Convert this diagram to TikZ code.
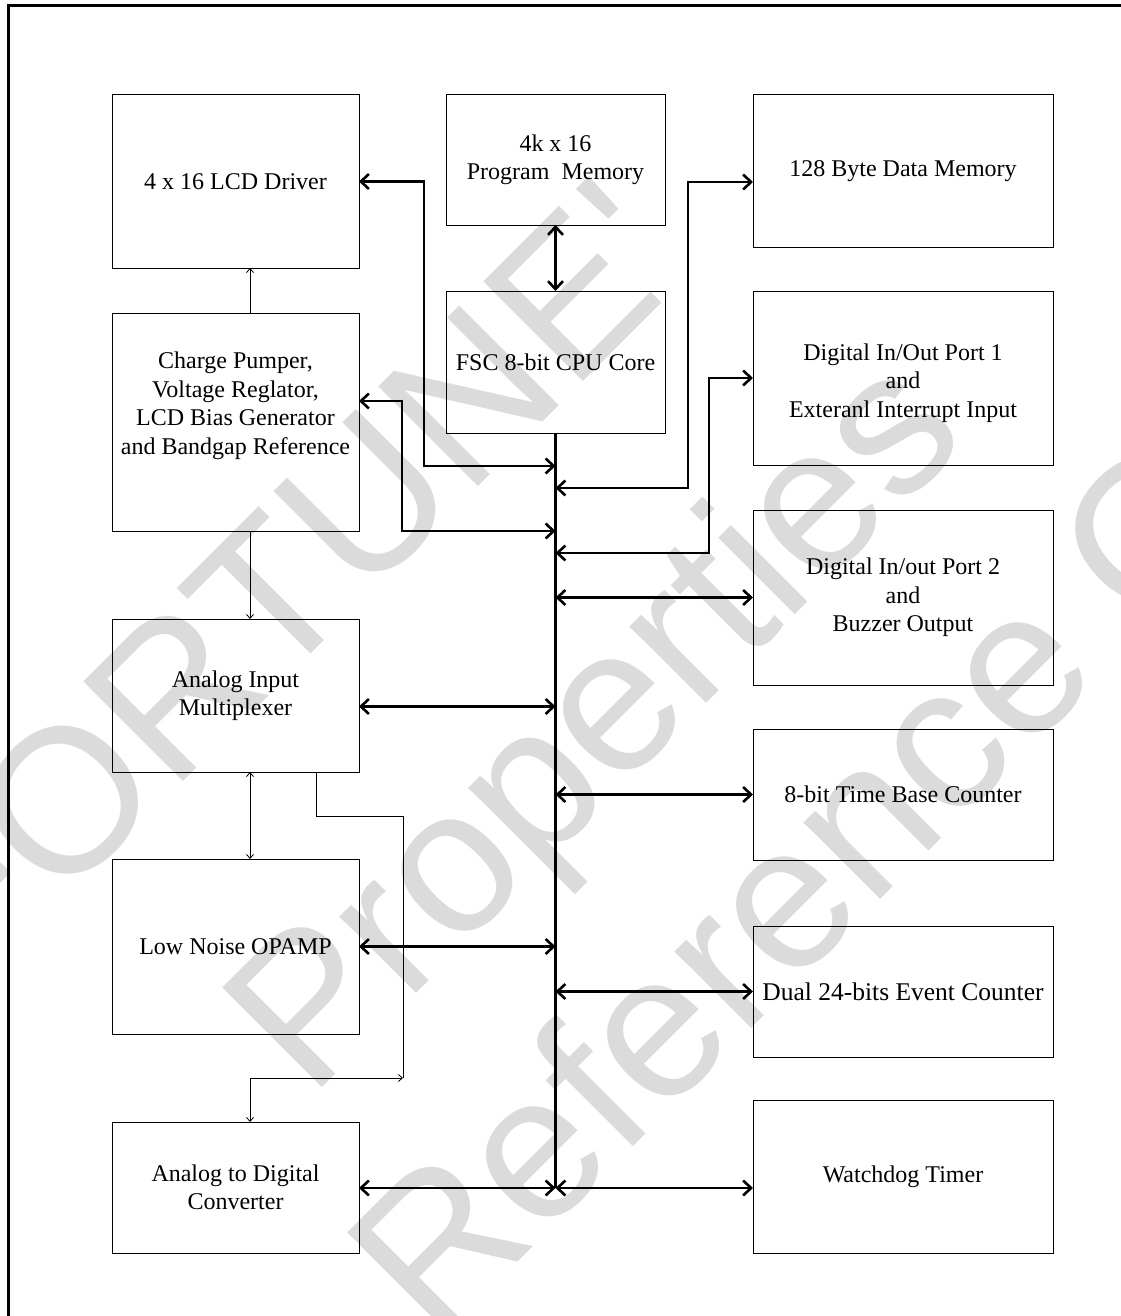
\documentclass[tikz,border=0pt]{standalone}
\usepackage{fontspec}
\setmainfont{Liberation Serif}
\newfontfamily\wmfont{Liberation Sans}
\usetikzlibrary{arrows.meta,calc}
\begin{document}
\begin{tikzpicture}[x=1pt,y=-1pt,
  box/.style={draw=black, line width=1pt, inner sep=0pt, outer sep=0pt, anchor=north west},
  lbl/.style={align=center, inner sep=0pt, font=\fontsize{24}{28.5}\selectfont},
  bus/.style={line width=2.6pt},
  dbl/.style={line width=2.6pt, {Straight Barb[length=8pt,width=15pt]}-{Straight Barb[length=8pt,width=15pt]}},
  thinline/.style={line width=0.8pt},
  thinar/.style={line width=0.8pt, -{Straight Barb[length=4pt,width=7pt]}},
  thinboth/.style={line width=0.8pt, {Straight Barb[length=4pt,width=7pt]}-{Straight Barb[length=4pt,width=7pt]}},
  wmark/.style={rotate=45, anchor=base west, text=black!14, inner sep=0pt, font=\wmfont\fontsize{205}{245}\selectfont}
]
\useasboundingbox (0,0) rectangle (1120,1316);
% watermark
\node[wmark] (wm1) at (-30,995) {FORTUNE'};
\node[wmark] (wm2) at (310,1100) {Properties};
\node[wmark] (wm3) at (435,1345) {Reference Only};
% frame
\draw[line width=3pt] (8,1330) -- (8,6) -- (1130,6);
% boxes
\node[box, minimum width=247, minimum height=173] (lcd) at (112,95) {};
\node[box, minimum width=219, minimum height=130] (pm) at (446,95) {};
\node[box, minimum width=300, minimum height=152] (dm) at (753,95) {};
\node[box, minimum width=247, minimum height=218] (chg) at (112,313) {};
\node[box, minimum width=219, minimum height=142] (cpu) at (446,291) {};
\node[box, minimum width=300, minimum height=174] (p1) at (753,291) {};
\node[box, minimum width=300, minimum height=175] (p2) at (753,510) {};
\node[box, minimum width=247, minimum height=153] (mux) at (112,619) {};
\node[box, minimum width=300, minimum height=131] (tb) at (753,729) {};
\node[box, minimum width=247, minimum height=175] (op) at (112,859) {};
\node[box, minimum width=300, minimum height=131] (dual) at (753,926) {};
\node[box, minimum width=247, minimum height=131] (adc) at (112,1122) {};
\node[box, minimum width=300, minimum height=153] (wd) at (753,1100) {};
% labels
\node[lbl] (lcdT) at (lcd.center) {4 x 16 LCD Driver};
\node[lbl] (pmT) at (pm.center) {4k x 16\\Program\ \ Memory};
\node[lbl] (dmT) at (dm.center) {128 Byte Data Memory};
\node[lbl] (chgT) at ($(chg.center)+(0,-16)$) {Charge Pumper,\\Voltage Reglator,\\LCD Bias Generator\\and Bandgap Reference};
\node[lbl] (cpuT) at (cpu.center) {FSC 8-bit CPU Core};
\node[lbl] (p1T) at ($(p1.center)+(0,5)$) {Digital In/Out Port 1\\and\\Exteranl Interrupt Input};
\node[lbl] (p2T) at (p2.center) {Digital In/out Port 2\\and\\Buzzer Output};
\node[lbl] (muxT) at (mux.center) {Analog Input\\Multiplexer};
\node[lbl] (tbT) at (tb.center) {8-bit Time Base Counter};
\node[lbl] (opT) at (op.center) {Low Noise OPAMP};
\node[lbl, font=\fontsize{25.5}{30}\selectfont] (dualT) at (dual.center) {Dual 24-bits Event Counter};
\node[lbl] (adcT) at (adc.center) {Analog to Digital\\Converter};
\node[lbl] (wdT) at (wd.center) {Watchdog Timer};
% bus
\coordinate (busTop) at (cpu.south);
\coordinate (busBot) at (555.5,1188);
\draw[bus] (busTop) -- (busBot);
\draw[dbl] (pm.south) -- (cpu.north);
% bent connectors
\coordinate (kL) at (424,466);
\coordinate (kD) at (688,488);
\coordinate (kC) at (402,531);
\coordinate (kP) at (709,553);
\draw[dbl] (lcd.east) -| (kL) -- (busTop |- kL);
\draw[dbl] ($(dm.north west)+(0,87)$) -| (kD) -- (busTop |- kD);
\draw[dbl] ($(chg.north east)+(0,88)$) -| (kC) -- (busTop |- kC);
\draw[dbl] ($(p1.north west)+(0,87)$) -| (kP) -- (busTop |- kP);
% straight bus connectors
\draw[dbl] (busTop |- p2.west) -- (p2.west);
\draw[dbl] ($(mux.east)+(0,11)$) -- (busTop |- {$(mux.east)+(0,11)$});
\draw[dbl] (busTop |- tb.west) -- (tb.west);
\draw[dbl] (op.east) -- (busTop |- op.east);
\draw[dbl] (busTop |- dual.west) -- (dual.west);
\draw[dbl] (adc.east |- busBot) -- (busBot);
\draw[dbl] (busBot) -- (wd.west |- busBot);
% thin connectors (analog side)
\coordinate (xl) at (250,0);
\coordinate (m1) at (316,816);
\coordinate (m2) at (403,816);
\coordinate (m3) at (403,1078);
\coordinate (m4) at (250,1078);
\draw[thinar] (xl |- chg.north) -- (xl |- lcd.south);
\draw[thinar] (xl |- chg.south) -- (xl |- mux.north);
\draw[thinboth] (xl |- mux.south) -- (xl |- op.north);
\draw[thinline] (m1 |- mux.south) -- (m1) -- (m2) -- (m3);
\draw[thinboth] (xl |- adc.north) -- (m4) -- (m3);
\end{tikzpicture}
\end{document}
